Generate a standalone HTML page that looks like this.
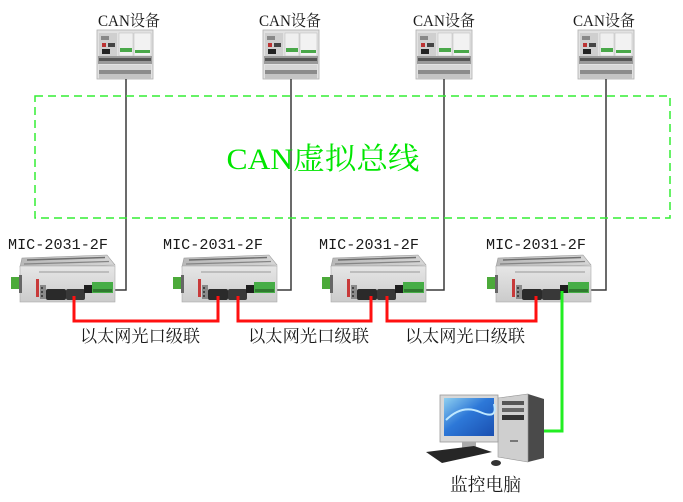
<!DOCTYPE html>
<html><head><meta charset="utf-8"><style>
html,body{margin:0;padding:0;background:#fff;}
svg{display:block;}
.lbl{font-family:"Liberation Serif","Noto Serif CJK SC",serif;fill:#1a1a1a;}
.mono{font-family:"Liberation Mono","Noto Sans CJK SC",monospace;fill:#1a1a1a;}
</style></head><body>
<svg width="683" height="502" viewBox="0 0 683 502" xmlns="http://www.w3.org/2000/svg">
<defs>
<linearGradient id="front" x1="0" y1="0" x2="0" y2="1"><stop offset="0" stop-color="#e6e6e6"/><stop offset="1" stop-color="#cbcbcb"/></linearGradient>
<linearGradient id="topf" x1="0" y1="0" x2="1" y2="0"><stop offset="0" stop-color="#b8b8b8"/><stop offset="1" stop-color="#d6d6d6"/></linearGradient>
<linearGradient id="scr" x1="0" y1="0" x2="1" y2="1"><stop offset="0" stop-color="#8fd0f0"/><stop offset="0.45" stop-color="#2d78d8"/><stop offset="1" stop-color="#1a4fb0"/></linearGradient>
<g id="mic">
  <polygon points="11,3 96,0 104,10 9,12" fill="url(#topf)" stroke="#999" stroke-width="0.6"/>
  <line x1="16" y1="5" x2="94" y2="2.5" stroke="#6e6e6e" stroke-width="1.4"/>
  <line x1="13" y1="9" x2="98" y2="6.5" stroke="#858585" stroke-width="1.2"/>
  <rect x="9" y="11" width="95" height="36" fill="url(#front)" stroke="#aaa" stroke-width="0.6"/>
  <rect x="0" y="22" width="8" height="12" fill="#4caa3a"/>
  <rect x="8" y="20" width="3" height="18" fill="#666"/>
  <rect x="25" y="24" width="3" height="18" fill="#c83a3a"/>
  <rect x="29" y="30" width="6" height="14" fill="#8a8a8a"/>
  <rect x="30" y="32" width="2" height="2" fill="#444"/><rect x="30" y="36" width="2" height="2" fill="#444"/><rect x="30" y="40" width="2" height="2" fill="#444"/>
  <rect x="35" y="34" width="20" height="11" rx="2" fill="#2a2a2a"/>
  <rect x="55" y="34" width="19" height="11" rx="2" fill="#383838"/>
  <rect x="73" y="30" width="8" height="8" fill="#1e1e1e"/>
  <rect x="81" y="27" width="21" height="11" fill="#46ad46"/>
  <rect x="82" y="34" width="19" height="3" fill="#2f7a2f"/>
  <rect x="28" y="16" width="70" height="2" fill="#bdbdbd"/>
</g>
<g id="plc">
  <rect x="0" y="0" width="56" height="49" fill="#e2e2e2" stroke="#b0b0b0" stroke-width="0.8"/>
  <rect x="2" y="3" width="18" height="23" fill="#cfcfcf"/>
  <rect x="4" y="6" width="8" height="4" fill="#888"/>
  <rect x="5" y="13" width="4" height="4" fill="#b33"/>
  <rect x="5" y="19" width="8" height="5" fill="#222"/>
  <rect x="11" y="13" width="7" height="4" fill="#444"/>
  <rect x="22" y="3" width="14" height="23" fill="#efefef" stroke="#bbb" stroke-width="0.5"/>
  <rect x="23" y="18" width="12" height="4" fill="#4aa84a"/>
  <rect x="37" y="3" width="17" height="23" fill="#f2f2f2" stroke="#bbb" stroke-width="0.5"/>
  <rect x="38" y="20" width="15" height="3" fill="#4aa84a"/>
  <rect x="1" y="26" width="54" height="8" fill="#9a9a9a"/>
  <rect x="2" y="28" width="52" height="3" fill="#555" />
  <rect x="2" y="35" width="52" height="5" fill="#d6d6d6"/>
  <rect x="2" y="40" width="52" height="4" fill="#8c8c8c"/>
  <rect x="2" y="44" width="52" height="5" fill="#c4c4c4"/>
</g>
</defs>

<!-- CAN device labels -->
<text class="lbl" x="98" y="26" font-size="16" textLength="62" lengthAdjust="spacingAndGlyphs">CAN设备</text>
<text class="lbl" x="259" y="26" font-size="16" textLength="62" lengthAdjust="spacingAndGlyphs">CAN设备</text>
<text class="lbl" x="413" y="26" font-size="16" textLength="62" lengthAdjust="spacingAndGlyphs">CAN设备</text>
<text class="lbl" x="573" y="26" font-size="16" textLength="62" lengthAdjust="spacingAndGlyphs">CAN设备</text>

<!-- PLCs -->
<use href="#plc" x="97" y="30"/>
<use href="#plc" x="263" y="30"/>
<use href="#plc" x="416" y="30"/>
<use href="#plc" x="578" y="30"/>

<!-- CAN lines -->
<g fill="none" stroke="#3a3a3a" stroke-width="1.5">
  <path d="M126 79 V290 H107"/>
  <path d="M291 79 V290 H273"/>
  <path d="M444 79 V290 H423"/>
  <path d="M606 79 V290 H588"/>
</g>

<!-- dashed virtual bus -->
<rect x="35" y="96" width="635" height="122" fill="none" stroke="#33ee33" stroke-width="1.5" stroke-dasharray="8,5"/>
<text x="323" y="169" text-anchor="middle" font-family="Liberation Serif,'Noto Serif CJK SC',serif" font-size="30" fill="#00e600" textLength="193" lengthAdjust="spacingAndGlyphs">CAN虚拟总线</text>

<!-- MIC labels -->
<text class="mono" x="8" y="249" font-size="15" textLength="100" lengthAdjust="spacingAndGlyphs">MIC-2031-2F</text>
<text class="mono" x="163" y="249" font-size="15" textLength="100" lengthAdjust="spacingAndGlyphs">MIC-2031-2F</text>
<text class="mono" x="319" y="249" font-size="15" textLength="100" lengthAdjust="spacingAndGlyphs">MIC-2031-2F</text>
<text class="mono" x="486" y="249" font-size="15" textLength="100" lengthAdjust="spacingAndGlyphs">MIC-2031-2F</text>

<!-- MIC devices -->
<use href="#mic" x="11" y="255"/>
<use href="#mic" x="173" y="255"/>
<use href="#mic" x="322" y="255"/>
<use href="#mic" x="487" y="255"/>

<!-- red fibre links -->
<g fill="none" stroke="#ff1010" stroke-width="3">
  <path d="M74 296 V321 H218 V296"/>
  <path d="M238 296 V321 H371 V296"/>
  <path d="M387 296 V321 H536 V296"/>
</g>
<!-- green ethernet -->
<path d="M562 291 V431 H543" fill="none" stroke="#22ee22" stroke-width="3"/>

<!-- link labels -->
<text class="lbl" x="80" y="342" font-size="17" textLength="120" lengthAdjust="spacingAndGlyphs">以太网光口级联</text>
<text class="lbl" x="248" y="342" font-size="17" textLength="121" lengthAdjust="spacingAndGlyphs">以太网光口级联</text>
<text class="lbl" x="405" y="342" font-size="17" textLength="120" lengthAdjust="spacingAndGlyphs">以太网光口级联</text>

<!-- computer -->
<g>
  <polygon points="498,398 528,394 544,399 544,458 528,462 498,457" fill="#4a4a4a"/>
  <polygon points="498,398 528,394 528,462 498,457" fill="#cfcfcf" stroke="#999" stroke-width="0.6"/>
  <rect x="502" y="401" width="22" height="4" fill="#555"/>
  <rect x="502" y="408" width="22" height="4" fill="#666"/>
  <rect x="502" y="415" width="22" height="5" fill="#333"/>
  <rect x="510" y="440" width="8" height="2" fill="#777"/>
  <rect x="440" y="395" width="58" height="47" fill="#d8d8d8" stroke="#999" stroke-width="0.8"/>
  <rect x="444" y="398" width="50" height="38" fill="url(#scr)"/>
  <path d="M446 420 Q462 404 480 412 T494 404" stroke="#bfe8ff" stroke-width="2" fill="none"/>
  <rect x="462" y="442" width="14" height="6" fill="#aaa"/>
  <polygon points="426,452 474,446 492,452 442,463" fill="#262626"/>
  <ellipse cx="496" cy="463" rx="5" ry="3" fill="#333"/>
</g>
<text class="lbl" x="450" y="491" font-size="18" textLength="71" lengthAdjust="spacingAndGlyphs">监控电脑</text>
</svg>
</body></html>
